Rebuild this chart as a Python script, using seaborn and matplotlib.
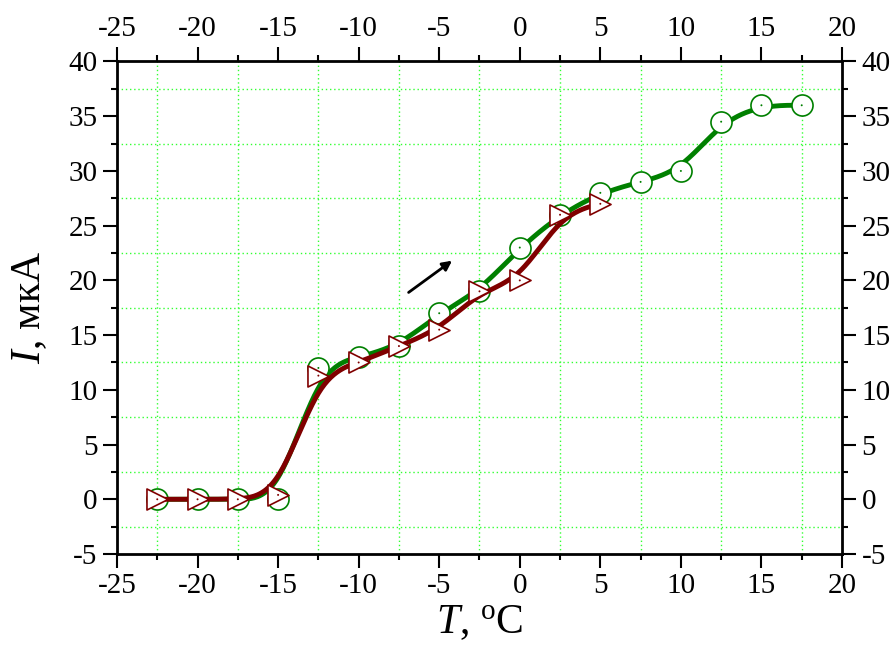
import numpy as np
import pandas as pd
import matplotlib
matplotlib.use("Agg")
import matplotlib.pyplot as plt
from matplotlib.ticker import MultipleLocator
import seaborn as sns

# data
t_heat = [-22.5, -20, -17.5, -15, -12.5, -10, -7.5, -5, -2.5, 0, 2.5, 5, 7.5, 10, 12.5, 15, 17.5]
i_heat = [0, 0, 0, 0, 12, 13, 14, 17, 19, 23, 26, 28, 29, 30, 34.5, 36, 36]

t_cool = [-22.5, -20, -17.5, -15, -12.5, -10, -7.5, -5, -2.5, 0, 2.5, 5]
i_cool = [0, 0, 0, 0.4, 11.3, 12.5, 14, 15.5, 19, 20, 26, 27]

x_ticks = [-25, -20, -15, -10, -5, 0, 5, 10, 15, 20]
y_ticks = [-5, 0, 5, 10, 15, 20, 25, 30, 35, 40]


def bspline(xs, ys, n=40):
    # clamped uniform cubic B-spline, like Origin's "B-Spline" connect
    px = np.r_[xs[0], xs[0], xs, xs[-1], xs[-1]]
    py = np.r_[ys[0], ys[0], ys, ys[-1], ys[-1]]
    t = np.linspace(0, 1, n)
    b = np.vstack([(1 - t) ** 3,
                   3 * t ** 3 - 6 * t ** 2 + 4,
                   -3 * t ** 3 + 3 * t ** 2 + 3 * t + 1,
                   t ** 3]) / 6
    ox, oy = [], []
    for i in range(len(px) - 3):
        ox.append(px[i:i + 4] @ b)
        oy.append(py[i:i + 4] @ b)
    return np.concatenate(ox), np.concatenate(oy)


sns.set_style("ticks")
plt.rcParams["font.family"] = ["Liberation Serif", "DejaVu Serif"]
plt.rcParams["mathtext.fontset"] = "custom"
plt.rcParams["mathtext.rm"] = "Liberation Serif"
plt.rcParams["mathtext.it"] = "Liberation Serif:italic"
plt.rcParams["axes.unicode_minus"] = False
plt.rcParams["text.color"] = "black"
plt.rcParams["axes.labelcolor"] = "black"

fig = plt.figure(figsize=(8.91, 6.46), dpi=100)
ax = fig.add_axes([0.1313, 0.1424, 0.8137, 0.7624])

green = "#008000"
red = "#800000"

hx, hy = bspline(t_heat, i_heat)
cx, cy = bspline(t_cool, i_cool)

sns.lineplot(x=hx, y=hy, sort=False, color=green, linewidth=3.5, ax=ax, zorder=3)
sns.scatterplot(x=t_heat, y=i_heat, marker="o", s=230, facecolor="white",
                edgecolor=green, linewidth=1.2, ax=ax, zorder=4)
sns.scatterplot(x=t_heat, y=i_heat, marker="o", s=2, color=green,
                edgecolor="none", ax=ax, zorder=4)

sns.lineplot(x=cx, y=cy, sort=False, color=red, linewidth=3.5, ax=ax, zorder=5)
sns.scatterplot(x=t_cool, y=i_cool, marker=">", s=230, facecolor="white",
                edgecolor=red, linewidth=1.2, ax=ax, zorder=6)
sns.scatterplot(x=t_cool, y=i_cool, marker="o", s=2, color=red,
                edgecolor="none", ax=ax, zorder=6)

ax.annotate("", xy=(-4.2, 21.8), xytext=(-6.9, 18.9),
            arrowprops=dict(arrowstyle="-|>", color="black", lw=2,
                            mutation_scale=14, shrinkA=0, shrinkB=0),
            zorder=7)

ax.set_xlim(-25, 20)
ax.set_ylim(-5, 40)
ax.set_xticks(x_ticks)
ax.set_yticks(y_ticks)
ax.xaxis.set_minor_locator(MultipleLocator(2.5))
ax.yaxis.set_minor_locator(MultipleLocator(2.5))

ax.grid(which="minor", color="#33ff33", linestyle=(0, (1, 2)), linewidth=1.0)
ax.grid(which="major", visible=False)

ax.tick_params(which="both", direction="out", top=True, right=True,
               labeltop=True, labelright=True, width=1.5, colors="black",
               labelsize=21, pad=4)
ax.tick_params(which="major", length=10)
ax.tick_params(which="minor", length=4.5)
for s in ax.spines.values():
    s.set_linewidth(2)
    s.set_color("black")

ax.set_xlabel(r"$\mathit{T}$, $^{\rm o}$C", fontsize=30, labelpad=3)
ax.set_ylabel(r"$\mathit{I}$, мкА", fontsize=30, labelpad=14)

fig.savefig("out.png", dpi=100)
